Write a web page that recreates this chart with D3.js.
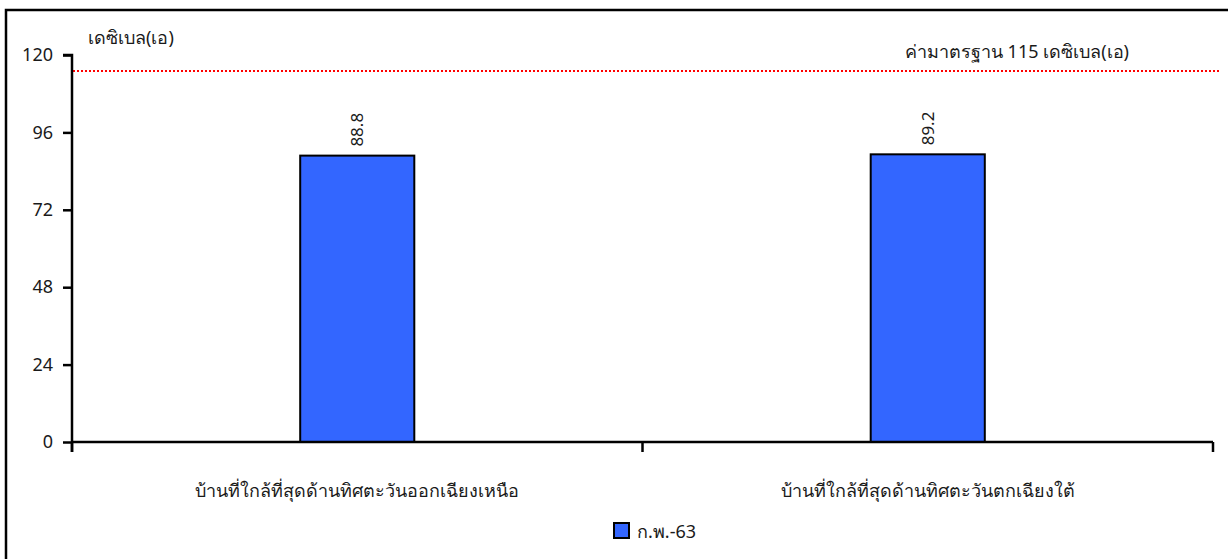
<!DOCTYPE html>
<html>
<head>
<meta charset="utf-8">
<script src="https://cdn.jsdelivr.net/npm/d3@7"></script>
<style>
  html, body { margin: 0; padding: 0; background: #fff; }
  svg { display: block; font-family: Tahoma, "Noto Sans", "DejaVu Sans", sans-serif; }
</style>
</head>
<body>
<svg id="chart" width="1228" height="559"></svg>
<script>
// Noise levels (dB(A)) at the two nearest houses
const categories = [
  "บ้านที่ใกล้ที่สุดด้านทิศตะวันออกเฉียงเหนือ",
  "บ้านที่ใกล้ที่สุดด้านทิศตะวันตกเฉียงใต้"
];
const seriesName = "ก.พ.-63";
const values = [88.8, 89.2];
const yTicks = [0, 24, 48, 72, 96, 120];
const standardValue = 115;
const standardLabel = "ค่ามาตรฐาน 115 เดซิเบล(เอ)";
const yUnit = "เดซิเบล(เอ)";

const svg = d3.select("#chart");
const W = 1228, H = 559;
const plot = { left: 72, right: 1213, top: 55, bottom: 442 };
const FONT = 18;
const INK = "#1a1a1a";

// outer frame
svg.append("rect")
  .attr("x", 6).attr("y", 10)
  .attr("width", W + 20).attr("height", H + 20)
  .attr("fill", "none").attr("stroke", "#000").attr("stroke-width", 2.5);

const x = d3.scaleBand()
  .domain(categories)
  .range([plot.left, plot.right])
  .paddingInner(0.8)
  .paddingOuter(0.4);

const y = d3.scaleLinear().domain([0, 120]).range([plot.bottom, plot.top]);

// standard limit line
const yStd = Math.round(y(standardValue));
svg.append("line")
  .attr("x1", plot.left + 1).attr("x2", 1220)
  .attr("y1", yStd).attr("y2", yStd)
  .attr("stroke", "#ff0000").attr("stroke-width", 2)
  .attr("stroke-dasharray", "2,2");

// bars
svg.selectAll("rect.bar")
  .data(values)
  .join("rect")
  .attr("class", "bar")
  .attr("x", (d, i) => x(categories[i]))
  .attr("y", d => y(d))
  .attr("width", x.bandwidth())
  .attr("height", d => y(0) - y(d))
  .attr("fill", "#3366ff")
  .attr("stroke", "#000")
  .attr("stroke-width", 2);

// value labels, rotated
svg.selectAll("text.val")
  .data(values)
  .join("text")
  .attr("class", "val")
  .attr("transform", (d, i) => `translate(${x(categories[i]) + x.bandwidth() / 2 + 6},${y(d) - 9}) rotate(-90)`)
  .attr("text-anchor", "start")
  .attr("font-size", 17)
  .attr("fill", INK)
  .text(d => d.toFixed(1));

// y axis
const yAxis = d3.axisLeft(y).tickValues(yTicks).tickSize(9).tickPadding(10).tickFormat(d3.format("d"));
const gy = svg.append("g").attr("transform", `translate(${plot.left},0)`).call(yAxis);
gy.select(".domain").attr("stroke", "#000").attr("stroke-width", 2.5)
  .attr("d", `M-9,${plot.top}H0V${plot.bottom + 10}`);
gy.selectAll(".tick line").attr("stroke", "#000").attr("stroke-width", 2.5);
gy.selectAll(".tick text").attr("font-size", FONT).attr("fill", INK)
  .attr("font-family", "Tahoma, 'Noto Sans', 'DejaVu Sans', sans-serif");

// x axis: ticks on band boundaries
const gx = svg.append("g").attr("transform", `translate(0,${plot.bottom})`);
gx.append("line")
  .attr("x1", plot.left).attr("x2", plot.right)
  .attr("stroke", "#000").attr("stroke-width", 2.5);
const bounds = [plot.left, (x(categories[0]) + x.bandwidth() / 2 + x(categories[1]) + x.bandwidth() / 2) / 2, plot.right];
gx.selectAll("line.tk")
  .data(bounds)
  .join("line")
  .attr("class", "tk")
  .attr("x1", d => d).attr("x2", d => d)
  .attr("y1", 0).attr("y2", 10)
  .attr("stroke", "#000").attr("stroke-width", 2.5);
gx.selectAll("text.cat")
  .data(categories)
  .join("text")
  .attr("class", "cat")
  .attr("x", d => x(d) + x.bandwidth() / 2)
  .attr("y", 55)
  .attr("text-anchor", "middle")
  .attr("font-size", FONT)
  .attr("fill", INK)
  .text(d => d);

// unit and standard annotations
svg.append("text")
  .attr("x", 88).attr("y", 44)
  .attr("font-size", FONT).attr("fill", INK)
  .text(yUnit);
svg.append("text")
  .attr("x", 1129).attr("y", 58)
  .attr("text-anchor", "end")
  .attr("font-size", FONT).attr("fill", INK)
  .text(standardLabel);

// legend
const lg = svg.append("g").attr("transform", "translate(614,523)");
lg.append("rect").attr("width", 15).attr("height", 15)
  .attr("fill", "#3366ff").attr("stroke", "#000").attr("stroke-width", 2);
lg.append("text").attr("x", 23).attr("y", 15)
  .attr("font-size", FONT).attr("fill", INK).text(seriesName);
</script>
</body>
</html>
